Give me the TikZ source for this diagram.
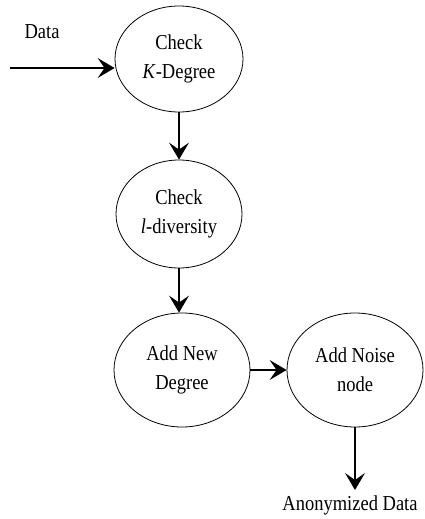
\documentclass[tikz,border=0pt]{standalone}
\usepackage{fontspec}
\setmainfont{Liberation Serif}
\usetikzlibrary{shapes.geometric,arrows.meta}
\newcommand\vs[1]{\scalebox{1}[1.15]{#1}}
\begin{document}
\begin{tikzpicture}[x=1pt,y=1pt,
  proc/.style={draw, ellipse, line width=0.8pt, inner sep=0pt, align=center,
    font=\fontsize{18.5}{29}\selectfont},
  flow/.style={-{Stealth[length=17pt,width=20pt,inset=7pt]}, line width=1.4pt},
  lbl/.style={font=\fontsize{18.5}{22}\selectfont, inner sep=0pt}]
\useasboundingbox (0,0) rectangle (425,-519);
\node[proc, minimum width=128, minimum height=106] (e1) at (179,-59) {\vs{Check}\\\vs{\textit{K}-Degree}};
\node[proc, minimum width=126, minimum height=108] (e2) at (179,-214) {\vs{Check}\\\vs{\textit{l}-diversity}};
\node[proc, minimum width=136, minimum height=114] (e3) at (182,-370) {\vs{Add New}\\\vs{Degree}};
\node[proc, minimum width=136, minimum height=114] (e4) at (355,-370) {\vs{Add Noise}\\\vs{node}};
\node[lbl] (data) at (42,-32) {\vs{Data}};
\node[lbl] (anon) at (350,-505) {\vs{Anonymized Data}};
\coordinate (in) at (10,-68);
\coordinate (out) at (355,-490);
\draw[flow] (in) -- (in -| e1.west);
\draw[flow] (e1.south) -- (e2.north);
\draw[flow] (e2.south) -- (e2.south |- e3.north);
\draw[flow] (e3.east) -- (e4.west);
\draw[flow] (e4.south) -- (out);
\end{tikzpicture}
\end{document}
